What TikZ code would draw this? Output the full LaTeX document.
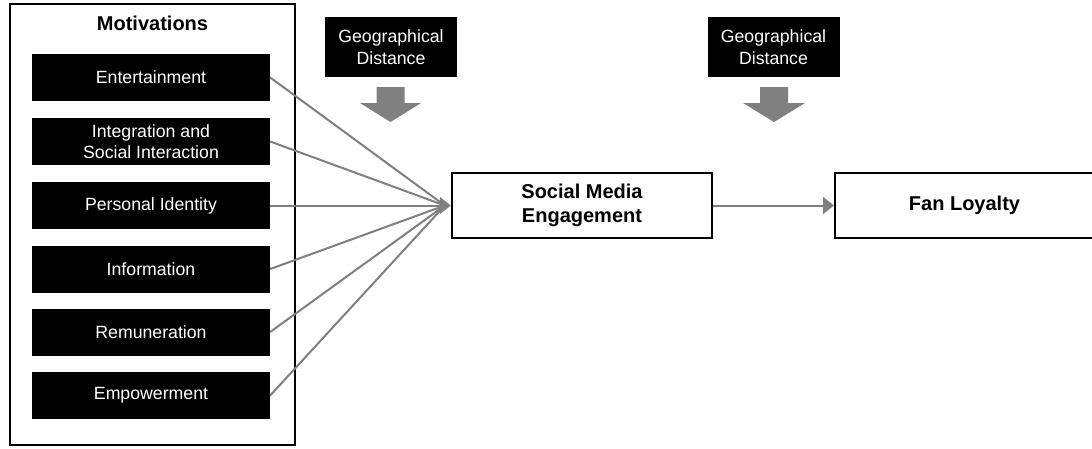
\documentclass[tikz,border=0pt]{standalone}
\usepackage{fontspec}
\setmainfont{Liberation Sans}
\usetikzlibrary{arrows.meta}
\definecolor{linkgray}{RGB}{128,128,128}
\tikzset{
  motive/.style={fill=black, text=white, minimum width=238pt, minimum height=47pt,
    inner sep=0pt, align=center, font=\fontsize{17.7}{20.5}\selectfont},
  moderator/.style={fill=black, text=white, minimum width=132pt, minimum height=60pt,
    inner sep=0pt, align=center, font=\fontsize{17.7}{21.5}\selectfont},
  construct/.style={draw=black, line width=2.4pt, fill=white, inner sep=0pt,
    align=center, font=\bfseries\fontsize{20}{23.3}\selectfont},
  constructlabel/.style={inner sep=0pt, align=center, font=\bfseries\fontsize{20}{23.3}\selectfont},
  link/.style={draw=linkgray, line width=2pt},
  linkarrow/.style={link, -{Triangle[length=11pt,width=17pt]}},
  fatarrow/.style={fill=linkgray, draw=none},
}
\begin{document}
\begin{tikzpicture}[x=1pt, y=-1pt]
\useasboundingbox (0,0) rectangle (1092,448);
\fill[white] (0,0) rectangle (1092,448);

% motivations frame
\draw[line width=2pt] (10,4) rectangle (295,445);
\node[font=\bfseries\fontsize{20}{23}\selectfont] (title) at (152.5,23) {Motivations};

% motivation items
\node[motive] (ent) at (151,77.5) {Entertainment};
\node[motive] (int) at (151,141.5) {Integration and\\Social Interaction};
\node[motive] (pid) at (151,205.5) {Personal Identity};
\node[motive] (inf) at (151,269) {Information};
\node[motive] (rem) at (151,332) {Remuneration};
\node[motive] (emp) at (151,395.5) {Empowerment};

% central constructs (the loyalty frame runs past the right edge)
\node[construct, minimum width=260pt, minimum height=65pt] (sme) at (582,205.5) {Social Media\\Engagement};
\node[construct, minimum width=280pt, minimum height=65pt, anchor=west] (fan) at (834,205.5) {};
\node[constructlabel] (fantext) at (964.5,205.5) {Fan Loyalty};

% moderators
\node[moderator] (geo1) at (391,47) {Geographical\\Distance};
\node[moderator] (geo2) at (773.5,47) {Geographical\\Distance};

% block arrows under the moderators
\fill[fatarrow] (376.5,87) -- (404.5,87) -- (404.5,103) -- (421,103) -- (390.5,122)
  -- (360,103) -- (376.5,103) -- cycle;
\fill[fatarrow] (760,87) -- (788,87) -- (788,103) -- (805,103) -- (774,122)
  -- (743,103) -- (760,103) -- cycle;

% converging links
\coordinate (hub) at ([xshift=-6pt]sme.west);
\draw[link] (ent.east) -- (hub);
\draw[link] (int.east) -- (hub);
\draw[link] (inf.east) -- (hub);
\draw[link] (rem.east) -- (hub);
\draw[link] (emp.east) -- (hub);
\draw[linkarrow] (pid.east) -- (sme.west);

\draw[linkarrow] (sme.east) -- (fan.west);
\end{tikzpicture}
\end{document}
